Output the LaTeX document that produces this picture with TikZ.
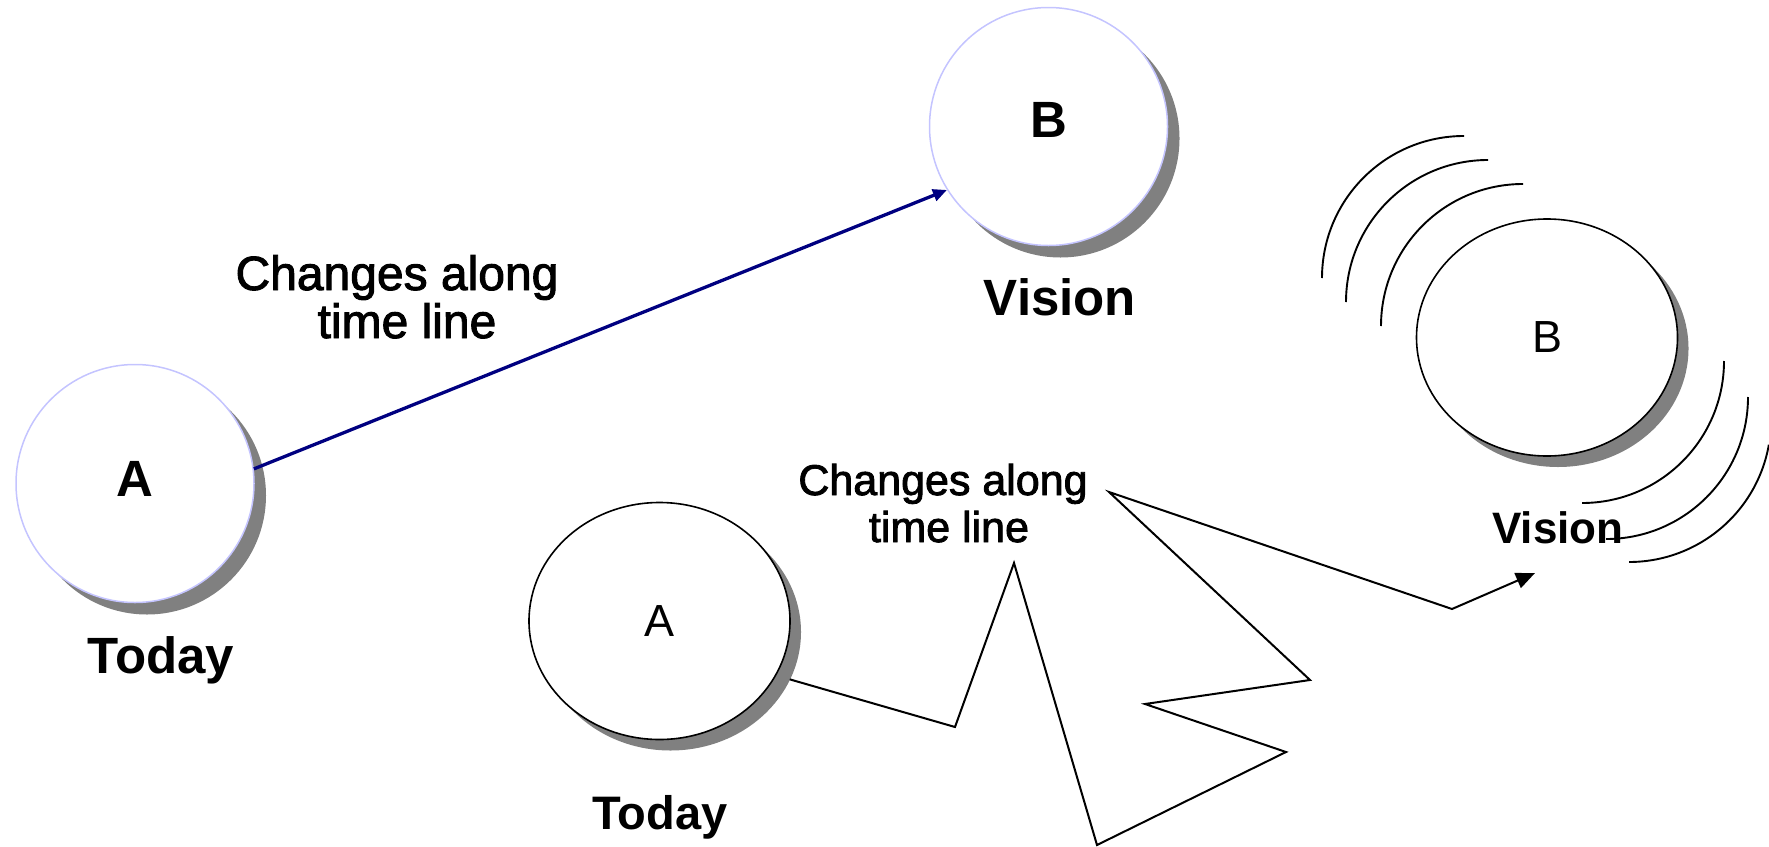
\documentclass[tikz,border=0pt]{standalone}
\usepackage{fontspec}
\setmainfont{Liberation Sans}
\newfontfamily\semifont[FakeBold=2.0]{Liberation Sans}
\usetikzlibrary{arrows.meta,shapes.geometric,shadows}
\definecolor{lav}{RGB}{196,196,255}
\definecolor{navyline}{RGB}{0,0,128}
\definecolor{shgray}{RGB}{128,128,128}
\newcommand{\fsz}[1]{\fontsize{#1}{#1}\selectfont}
\tikzset{
  bigcirc/.style={circle, draw=lav, line width=1.5pt, fill=white, minimum size=238pt, inner sep=0pt,
    drop shadow={shadow xshift=12pt, shadow yshift=-12pt, opacity=1, fill=shgray},
    font=\bfseries\fsz{51}},
  smallell/.style={ellipse, draw=black, line width=1.6pt, fill=white, minimum width=261pt, minimum height=237pt, inner sep=0pt,
    drop shadow={shadow xshift=11pt, shadow yshift=-11pt, opacity=1, fill=shgray},
    font=\fsz{45}},
  boldlbl/.style={anchor=base, inner sep=0pt, font=\bfseries\fsz{#1}},
  plainlbl/.style={anchor=base, inner sep=0pt, font=\semifont\fsz{#1}},
  navyarrow/.style={draw=navyline, line width=3.3pt, -{Triangle[length=14pt,width=12pt]}},
  zigline/.style={draw=black, line width=2pt, line join=miter, -{Triangle[length=19pt,width=16pt]}},
  wave/.style={draw=black, line width=1.9pt}
}
\begin{document}
\begin{tikzpicture}[x=1pt,y=-1pt]
\useasboundingbox (0,0) rectangle (1769,846);

% left part
\node[bigcirc, text depth=10pt] (A) at (135,483.5) {A};
\node[bigcirc, text depth=13pt] (B) at (1048.5,126.5) {B};
\node[boldlbl=51] (todayA) at (161,673) {Today};
\node[boldlbl=51] (visionB) at (1060,315) {Vision};
\node[plainlbl=48] (chg1) at (397,290) {Changes along};
\node[plainlbl=48] (chg2) at (407,338) {time line};
\draw[navyarrow] (A.7) -- (B.212);

% right part: waves
\draw[wave] (1322,278) arc[start angle=180, end angle=270, radius=142];
\draw[wave] (1346,302) arc[start angle=180, end angle=270, radius=142];
\draw[wave] (1381,326) arc[start angle=180, end angle=270, radius=142];
\draw[wave] (1724,361) arc[start angle=0, end angle=90, radius=142];
\draw[wave] (1748,397) arc[start angle=0, end angle=90, radius=142];
\draw[wave] (1629,420) ++(10:142) arc[start angle=10, end angle=90, radius=142];

\node[smallell] (eA) at (659.5,621) {A};
\node[smallell] (eB) at (1547,337.5) {B};
\node[boldlbl=47] (todayS) at (660,829) {Today};
\node[boldlbl=44] (visionS) at (1558,543) {Vision};
\node[plainlbl=43] (chg3) at (943,495) {Changes along};
\node[plainlbl=43] (chg4) at (949,542) {time line};

\coordinate (zend) at (1535,573);
\draw[zigline, shorten <=14pt] (eA.-25) -- (955,727) -- (1014,563) -- (1097,845) -- (1286,752)
  -- (1145,704) -- (1310,680) -- (1109,492) -- (1452,609) -- (zend);
\end{tikzpicture}
\end{document}
